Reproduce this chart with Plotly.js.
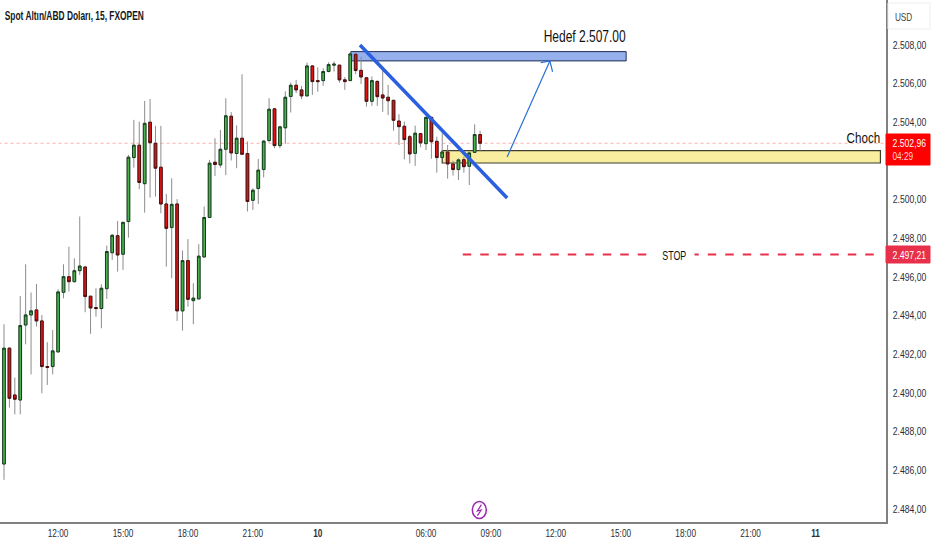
<!DOCTYPE html>
<html>
<head>
<meta charset="utf-8">
<script src="https://cdn.plot.ly/plotly-3.0.1.min.js"></script>
<style>html,body{margin:0;padding:0;background:#fff}</style>
</head>
<body>
<div id="chart" style="width:932px;height:550px"></div>
<script>
const highs = [2493.54,2492.35,2490.78,2495.00,2496.64,2495.18,2495.62,2494.02,2492.61,2493.24,2495.35,2496.64,2497.55,2496.95,2499.11,2496.52,2495.00,2495.40,2495.61,2497.61,2498.21,2498.88,2498.83,2502.30,2504.11,2504.02,2505.09,2505.19,2503.80,2503.80,2500.28,2501.09,2500.01,2497.35,2497.94,2495.66,2497.68,2499.63,2502.04,2503.16,2503.59,2505.23,2504.51,2503.83,2506.47,2502.99,2500.57,2502.09,2503.07,2505.23,2504.71,2503.80,2505.59,2506.04,2506.18,2505.87,2507.07,2506.94,2506.83,2506.78,2507.09,2507.13,2506.95,2506.32,2507.59,2507.59,2507.38,2506.31,2506.35,2506.14,2506.83,2505.92,2505.14,2504.40,2504.02,2503.33,2503.81,2503.42,2504.26,2504.28,2503.24,2503.42,2502.81,2502.00,2502.12,2502.21,2502.47,2503.88,2503.55];
const lows = [2485.49,2489.23,2488.88,2488.88,2492.50,2490.95,2493.42,2489.97,2490.40,2490.95,2492.07,2494.88,2495.23,2495.71,2496.09,2494.16,2493.04,2493.93,2493.33,2494.85,2496.87,2496.26,2496.35,2498.02,2501.64,2500.52,2499.31,2500.09,2500.14,2499.28,2496.52,2495.92,2493.71,2493.21,2494.45,2493.54,2494.83,2496.99,2499.04,2501.21,2501.64,2501.25,2502.01,2501.61,2502.30,2499.37,2499.45,2499.76,2501.13,2502.94,2502.64,2502.64,2502.87,2504.49,2505.49,2505.18,2505.32,2505.40,2505.57,2505.87,2506.57,2506.61,2506.04,2505.66,2506.12,2506.47,2505.97,2504.79,2504.83,2504.83,2504.52,2504.36,2503.55,2502.81,2502.07,2501.86,2501.73,2502.69,2502.55,2502.10,2501.38,2502.12,2501.07,2501.23,2501.00,2501.38,2500.74,2502.40,2502.47];
const opens = [2486.31,2492.30,2489.88,2489.62,2493.50,2494.02,2494.28,2493.71,2491.35,2491.35,2492.11,2495.19,2496.00,2495.74,2496.31,2496.50,2494.99,2494.40,2494.35,2495.38,2497.24,2498.12,2497.16,2498.85,2502.16,2502.80,2500.81,2503.99,2502.90,2501.66,2499.76,2498.54,2499.76,2494.23,2496.83,2494.76,2494.85,2497.02,2499.06,2501.92,2501.78,2502.59,2504.30,2502.37,2503.16,2502.37,2499.95,2500.56,2501.54,2503.04,2504.68,2502.78,2503.70,2505.32,2505.90,2505.66,2505.35,2506.90,2506.14,2506.14,2506.61,2506.94,2506.94,2506.18,2506.14,2507.50,2506.67,2506.29,2505.07,2506.10,2505.40,2505.28,2505.12,2504.05,2503.78,2503.24,2502.38,2503.40,2502.88,2504.24,2503.00,2502.16,2502.45,2501.83,2501.54,2502.05,2501.71,2502.43,2503.35];
const closes = [2492.30,2489.71,2489.66,2493.47,2494.02,2494.23,2493.71,2491.35,2491.31,2492.16,2495.21,2496.00,2495.74,2496.31,2496.55,2494.97,2494.38,2494.35,2495.40,2497.30,2498.14,2497.12,2498.81,2502.18,2502.80,2500.87,2503.93,2502.93,2501.61,2499.76,2498.50,2499.74,2494.23,2496.83,2494.83,2494.89,2497.06,2499.06,2501.87,2501.80,2502.59,2504.32,2502.40,2503.16,2502.33,2499.89,2500.47,2501.51,2503.01,2504.66,2502.78,2503.75,2505.28,2505.90,2505.66,2505.35,2506.90,2506.09,2506.09,2506.61,2506.97,2506.99,2506.18,2506.09,2507.52,2506.66,2506.33,2505.07,2506.14,2505.31,2505.24,2505.10,2504.09,2503.76,2503.09,2502.35,2503.42,2502.92,2504.24,2502.98,2502.16,2502.45,2501.83,2501.54,2502.04,2501.69,2502.40,2503.35,2502.90];

const priceTicks = [2484,2486,2488,2490,2492,2494,2496,2498,2500,2504,2506,2508];
const priceLabels = ["2.484,00","2.486,00","2.488,00","2.490,00","2.492,00","2.494,00","2.496,00","2.498,00","2.500,00","2.504,00","2.506,00","2.508,00"];
const timeTicks = [10,22,34,46,58,78,90,102,114,126,138,150];
const timeLabels = ["12:00","15:00","18:00","21:00","<b>10</b>","06:00","09:00","12:00","15:00","18:00","21:00","<b>11</b>"];

const titleText = "Spot Altın/ABD Doları, 15, FXOPEN";
const targetText = "Hedef 2.507.00";
const chochText = "Choch";
const stopText = "STOP";
const lastPriceLabel = "2.502,96";
const countdownLabel = "04:29";
const stopPriceLabel = "2.497,21";
const currencyLabel = "USD";

const lastPriceLine = 2502.90;
const stopLine = 2497.15;
const targetZone = {x:[64.1,115], y:[2507.16,2507.64]};
const chochZone = {x:[81,162], y:[2501.88,2502.52]};
const trendLine = {x:[65.8,93], y:[2507.98,2500.07]};
const arrow = {x:[93,100.9], y:[2502.19,2507.16]};
const arrowWings = {x:[99.2,101.4], y:[2507.07,2506.6]};
const stopRange = [84.8,162];

const FONT = '"Liberation Sans",sans-serif';
const idx = opens.map((_, i) => i);
const bodyHigh = opens.map((o, i) => Math.max(o, closes[i]));
const bodyLow = opens.map((o, i) => Math.min(o, closes[i]));

const wickTrace = {
  type:'candlestick', x:idx, open:opens, high:highs, low:lows, close:closes,
  whiskerwidth:0, hoverinfo:'skip',
  increasing:{line:{color:'#8c8c8c',width:1}, fillcolor:'rgba(0,0,0,0)'},
  decreasing:{line:{color:'#8c8c8c',width:1}, fillcolor:'rgba(0,0,0,0)'}
};
const bodyTrace = {
  type:'candlestick', x:idx, open:opens, high:bodyHigh, low:bodyLow, close:closes,
  whiskerwidth:0,
  increasing:{line:{color:'#14401c',width:1}, fillcolor:'#4caf50'},
  decreasing:{line:{color:'#4a0f0f',width:1}, fillcolor:'#e31212'}
};

const PW = 886, PH = 522;
const px = v => v / PW, py = v => 1 - v / PH;
function tag(x0,x1,y0,y1,color,stroke){
  return {type:'rect', xref:'paper', yref:'paper', x0:px(x0), x1:px(x1), y0:py(y0), y1:py(y1),
    fillcolor:color, line:{color:stroke||color,width:1}};
}
function label(x,y,text,size,color,extra){
  return Object.assign({xref:'paper', yref:'paper', x:px(x), y:py(y), text:text, showarrow:false,
    xanchor:'center', yanchor:'middle', font:{family:FONT,size:size,color:color}}, extra||{});
}

const shapes = [
  {type:'rect', layer:'below', x0:targetZone.x[0], x1:targetZone.x[1], y0:targetZone.y[0], y1:targetZone.y[1],
   fillcolor:'#96b0ee', line:{color:'#1f2f55',width:1}},
  {type:'rect', layer:'below', x0:chochZone.x[0], x1:chochZone.x[1], y0:chochZone.y[0], y1:chochZone.y[1],
   fillcolor:'#f9eea0', line:{color:'#3d3d30',width:1.2}},
  {type:'line', layer:'below', x0:-1, x1:163.5, y0:lastPriceLine, y1:lastPriceLine, line:{color:'rgba(255,70,70,0.45)',width:1,dash:'dot'}},
  {type:'line', x0:trendLine.x[0], x1:trendLine.x[1], y0:trendLine.y[0], y1:trendLine.y[1], line:{color:'#2a5fdf',width:3.5}},
  {type:'line', x0:arrow.x[0], x1:arrow.x[1], y0:arrow.y[0], y1:arrow.y[1], line:{color:'#2a6fd8',width:1.2}},
  {type:'line', x0:arrowWings.x[0], x1:arrow.x[1], y0:arrowWings.y[0], y1:arrow.y[1], line:{color:'#2a6fd8',width:1.2}},
  {type:'line', x0:arrowWings.x[1], x1:arrow.x[1], y0:arrowWings.y[1], y1:arrow.y[1], line:{color:'#2a6fd8',width:1.2}},
  {type:'line', x0:stopRange[0], x1:stopRange[1], y0:stopLine, y1:stopLine, line:{color:'#e8304a',width:2,dash:'8.5px,9px'}},
  {type:'circle', x0:86.57, x1:89.15, y0:2483.49, y1:2484.37, fillcolor:'#fff', line:{color:'#9c27b0',width:1.5}},
  {type:'path', path:'M 88.25 2484.21 L 87.5 2483.88 L 88.2 2483.93 L 87.5 2483.64', line:{color:'#9c27b0',width:1.2}},
  tag(886,930,134,165,'#ff0000'),
  tag(886,930,246,263,'#e8304a'),
  tag(888,930,3,29,'#ffffff','#eeeeee')
];

const annotations = [
  label(585,36,targetText,16,'#111111'),
  label(863.5,137,chochText,15.5,'#111111'),
  label(674.5,255,stopText,13.5,'#111111',{bgcolor:'#ffffff',borderpad:1}),
  label(909,143,lastPriceLabel,11.5,'#ffffff'),
  label(903,156,countdownLabel,11,'#ffd0d0'),
  label(909,255,stopPriceLabel,11.5,'#ffffff'),
  label(903,17,currencyLabel,11,'#444444')
];

const layout = {
  width:932, height:550, autosize:false,
  margin:{l:0,r:46,t:0,b:28,pad:0},
  paper_bgcolor:'#ffffff', plot_bgcolor:'#ffffff',
  showlegend:false,
  title:{text:'<b>'+titleText+'</b>', x:5/932, xanchor:'left', xref:'paper', y:1-16/550, yref:'container', yanchor:'middle',
         font:{family:FONT,size:12,color:'#131722'}},
  xaxis:{range:[-0.74,163.03], type:'linear', rangeslider:{visible:false}, tickmode:'array', tickvals:timeTicks, ticktext:timeLabels,
         showgrid:false, zeroline:false, showline:true, linecolor:'#808080', linewidth:1.5, ticks:'',
         tickangle:0, tickfont:{family:FONT,size:11,color:'#2a2e39'}, fixedrange:true},
  yaxis:{range:[2483.31,2510.31], side:'right', tickmode:'array', tickvals:priceTicks, ticktext:priceLabels,
         showgrid:false, zeroline:false, showline:true, linecolor:'#808080', linewidth:1.5, ticks:'',
         ticklabelstandoff:3, tickfont:{family:FONT,size:11.5,color:'#2a2e39'}, fixedrange:true},
  shapes:shapes, annotations:annotations
};

// The reference uses a narrow face; none is installed, so real text is condensed horizontally.
function condense(){
  document.querySelectorAll('#chart svg text').forEach(t => {
    const s = t.textContent;
    if (!s) return;
    const f = s === titleText ? 0.70 : s === stopText ? 0.66 : 0.75;
    const x = parseFloat(t.getAttribute('x')) || 0;
    const prev = t.getAttribute('transform') || '';
    t.setAttribute('transform', prev + ' translate(' + x + ',0) scale(' + f + ',1) translate(' + (-x) + ',0)');
  });
}

Plotly.newPlot('chart',[wickTrace,bodyTrace],layout,{displayModeBar:false,staticPlot:true}).then(condense);
</script>
</body>
</html>
